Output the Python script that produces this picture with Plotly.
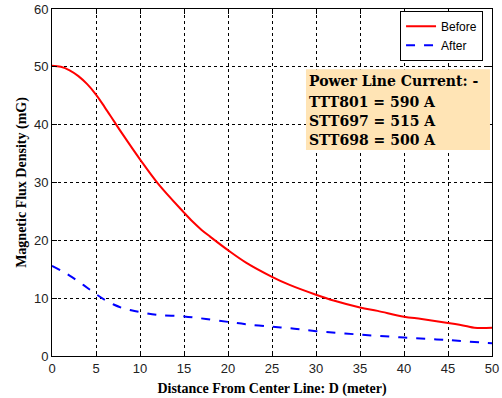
import plotly.graph_objects as go

# Data
dist_before = [0, 1, 2, 3, 4, 5, 6, 7, 8, 10, 12, 15, 16, 17, 18, 20, 22, 25, 27, 30, 32, 35, 37, 40, 42, 45, 47, 48, 50]
before = [50.2, 50.0, 49.4, 48.4, 47.0, 45.2, 43.0, 40.7, 38.4, 34.0, 29.9, 24.8, 23.2, 21.8, 20.6, 18.3, 16.2, 13.7, 12.3, 10.6, 9.6, 8.4, 7.8, 6.8, 6.4, 5.7, 5.2, 4.9, 4.9]
dist_after = [0, 1, 2, 3, 4, 5, 6, 7, 8, 9, 10, 12, 15, 17.5, 20, 22, 25, 27, 30, 35, 40, 45, 50]
after = [15.6, 14.8, 13.9, 12.9, 11.8, 10.7, 9.7, 8.9, 8.3, 7.9, 7.6, 7.1, 6.85, 6.4, 5.9, 5.5, 5.05, 4.8, 4.3, 3.7, 3.2, 2.75, 2.2]

x_ticks = [0, 5, 10, 15, 20, 25, 30, 35, 40, 45, 50]
y_ticks = [0, 10, 20, 30, 40, 50, 60]

note_lines = ["Power Line Current: -", "TTT801 = 590 A", "STT697 = 515 A", "STT698 = 500 A"]
note_y = [47.55, 44.0, 40.6, 37.4]

fig = go.Figure()
fig.add_trace(go.Scatter(x=dist_before, y=before, mode="lines", name="Before",
                         line=dict(color="#ff0000", width=2, shape="spline", smoothing=1.0)))
fig.add_trace(go.Scatter(x=dist_after, y=after, mode="lines", name="After",
                         line=dict(color="#0000ff", width=2, dash="dash", shape="spline", smoothing=1.0)))

axis_common = dict(showline=True, linecolor="black", linewidth=1, mirror="ticks",
                   ticks="inside", ticklen=5, tickcolor="black", automargin=False,
                   showgrid=True, gridcolor="black", griddash="dot", gridwidth=1,
                   zeroline=False, tickfont=dict(family="Liberation Sans, Arial", size=13, color="#222"))

fig.update_xaxes(range=[0, 50], tickvals=x_ticks, **axis_common,
                 title=dict(text="<b>Distance From Center Line: D (meter)</b>",
                            font=dict(family="Liberation Serif, Times New Roman", size=14, color="black"),
                            standoff=8))
fig.update_yaxes(range=[0, 60], tickvals=y_ticks, **axis_common,
                 title=dict(text="<b>Magnetic Flux Density (mG)</b>",
                            font=dict(family="Liberation Serif, Times New Roman", size=14, color="black"),
                            standoff=4))

# Note box background
fig.add_shape(type="rect", xref="x", yref="y", x0=28.86, x1=49.77, y0=35.6, y1=49.6,
              fillcolor="#ffe4b5", line=dict(width=0), layer="above")
for txt, yv in zip(note_lines, note_y):
    fig.add_annotation(xref="x", yref="y", x=28.95, y=yv, xanchor="left", yanchor="middle",
                       text="<b>" + txt + "</b>", showarrow=False,
                       font=dict(family="DejaVu Serif", size=14, color="black"))

fig.update_layout(
    width=502, height=398,
    margin=dict(l=52, r=10, t=9, b=42),
    paper_bgcolor="white", plot_bgcolor="white",
    legend=dict(x=0.791, y=0.995, xanchor="left", yanchor="top",
                bgcolor="white", bordercolor="black", borderwidth=1,
                font=dict(family="Liberation Sans, Arial", size=12, color="black"),
                tracegroupgap=0, itemwidth=30),
)

fig.write_html("out.html", config={"displayModeBar": False},
               post_script="document.body.style.margin='0';document.body.style.overflow='hidden';")
